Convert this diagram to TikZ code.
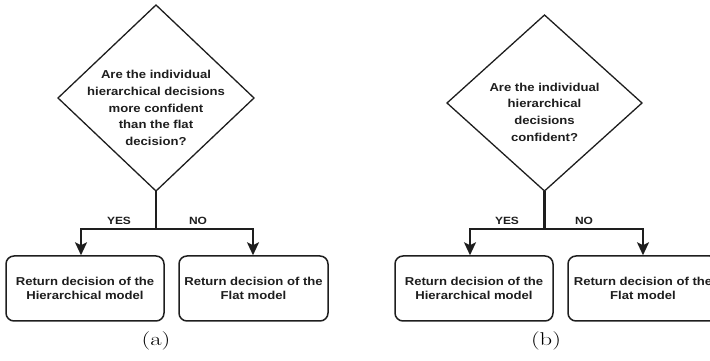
\documentclass[tikz,border=0pt]{standalone}
\usepackage{fontspec}
\usepackage{graphicx}
\usetikzlibrary{shapes.geometric,arrows.meta}
\newfontfamily\labfont[FakeStretch=1.14]{Liberation Sans}
\definecolor{ink}{RGB}{30,30,30}
\begin{document}
\begin{tikzpicture}[x=1pt,y=1pt,
  decbox/.style={draw=ink, shape=diamond, line width=1.3pt, inner sep=0pt, outer sep=0pt},
  dectext/.style={align=center, text=ink, font=\labfont\bfseries\fontsize{11.5}{16.7}\selectfont},
  retbox/.style={draw=ink, rounded corners=8pt, line width=1.5pt, minimum height=65pt, align=center, text=ink,
    font=\labfont\bfseries\fontsize{11.5}{13.3}\selectfont, inner sep=0pt},
  ans/.style={text=ink, font=\labfont\bfseries\fontsize{10.5}{12}\selectfont, inner sep=0pt},
  arr/.style={draw=ink, line width=2.2pt, -{Stealth[length=13pt, width=12pt, inset=3pt]}},
  stem/.style={draw=ink, line width=2.2pt},
  capt/.style={font=\fontsize{18.5}{22}\selectfont, inner sep=0pt}
]
\useasboundingbox (0,0) rectangle (710,361);

% ---------- panel (a)
\node[decbox, minimum width=196pt, minimum height=186pt] (da) at (156,263) {};
\node[dectext] (ta) at (156,253) {Are the individual\\hierarchical decisions\\more confident\\than the flat\\decision?};
\node[retbox, minimum width=158pt] (a1) at (85,72.5) {Return decision of the\\Hierarchical model};
\node[retbox, minimum width=149pt] (a2) at (253.5,72.5) {Return decision of the\\Flat model};
\coordinate (ja) at (156,132);
\coordinate (la) at (81,132);
\coordinate (ra) at (253,132);
\draw[stem] (da.south) -- (ja);
\draw[arr] (ja) -- (la) -- (la |- a1.north);
\draw[arr] (ja) -- (ra) -- (ra |- a2.north);
\node[ans] (ya) at (119,140) {YES};
\node[ans] (na) at (198,140) {NO};
\node[capt] (ca) at (156,20) {\scalebox{1.33}[1]{(a)}};

% ---------- panel (b)
\node[decbox, minimum width=195pt, minimum height=176pt] (db) at (544.5,258) {};
\node[dectext] (tb) at (544.5,249) {Are the individual\\hierarchical\\decisions\\confident?};
\node[retbox, minimum width=158pt] (b1) at (474,72.5) {Return decision of the\\Hierarchical model};
\node[retbox, minimum width=150pt] (b2) at (643,72.5) {Return decision of the\\Flat model};
\coordinate (jb) at (544.5,132);
\coordinate (lb) at (470,132);
\coordinate (rb) at (643,132);
\draw[stem] (db.south) -- (jb);
\draw[arr] (jb) -- (lb) -- (lb |- b1.north);
\draw[arr] (jb) -- (rb) -- (rb |- b2.north);
\node[ans] (yb) at (507,140) {YES};
\node[ans] (nb) at (584,140) {NO};
\node[capt] (cb) at (546,20) {\scalebox{1.33}[1]{(b)}};
\end{tikzpicture}
\end{document}
